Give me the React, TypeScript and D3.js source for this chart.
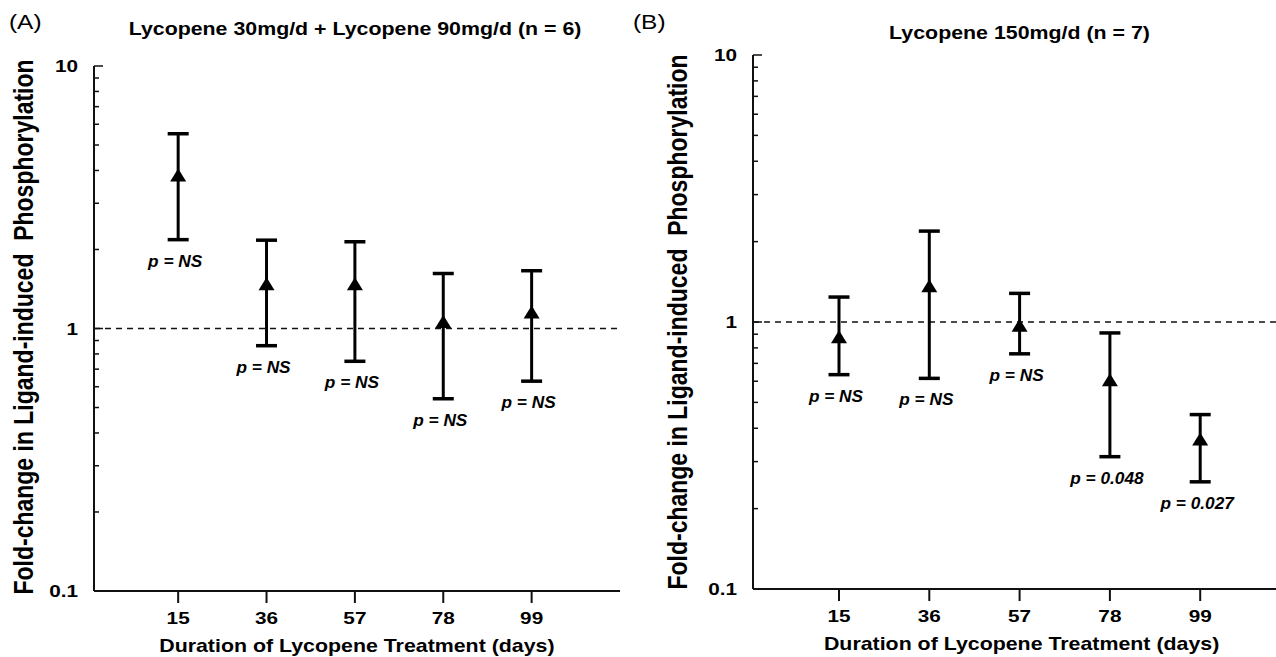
import React from 'react';
import * as d3 from 'd3';

// durations (days) shared by both panels
const days = [15, 36, 57, 78, 99];

// panel A: Lycopene 30mg/d + 90mg/d
const meanA = [3.79, 1.46, 1.46, 1.05, 1.14];
const upperA = [5.52, 2.17, 2.14, 1.62, 1.66];
const lowerA = [2.18, 0.86, 0.75, 0.54, 0.63];
const pA = ['NS', 'NS', 'NS', 'NS', 'NS'];

// panel B: Lycopene 150mg/d
const meanB = [0.87, 1.35, 0.96, 0.6, 0.36];
const upperB = [1.24, 2.19, 1.28, 0.91, 0.45];
const lowerB = [0.635, 0.615, 0.76, 0.313, 0.252];
const pB = ['NS', 'NS', 'NS', '0.048', '0.027'];

const yTickValues = [0.1, 1, 10];
const yTickLabels = ['0.1', '1', '10'];

const FONT = '"Liberation Sans", Arial, sans-serif';
const SX = 1.22; // the figure is a bit wider than tall

function T(props: any) {
  const { x, y, size, anchor = 'middle', weight = 'bold', italic = false, rot = false, sx = SX, children } = props;
  return (
    <text
      transform={`translate(${x},${y}) scale(${sx},1)${rot ? ' rotate(-90)' : ''}`}
      fontFamily={FONT}
      fontSize={size}
      fontWeight={weight}
      fontStyle={italic ? 'italic' : 'normal'}
      textAnchor={anchor}
      fill="#000"
      style={{ whiteSpace: 'pre' }}
    >
      {children}
    </text>
  );
}

function Panel(props: any) {
  const { left, right, top, bottom, tag, tagX, title, titleX, titleY, yTitleX, yTitleY, mean, upper, lower, pvals } = props;
  const x = d3.scaleLinear().domain([-5, 120]).range([left, right]);
  const y = d3.scaleLog().domain([0.1, 10]).range([bottom, top]);
  const cap = 10.5;

  return (
    <g>
      <T x={tagX} y={29} size={20} weight="normal" anchor="start">{tag}</T>
      <T x={titleX} y={titleY} size={17.5}>{title}</T>

      {/* y axis with log minor ticks */}
      <line x1={left} x2={left} y1={y(10)} y2={y(0.1)} stroke="#111" strokeWidth={2} />
      {y.ticks().map((t, i) => {
        const major = Math.abs(Math.log10(t) - Math.round(Math.log10(t))) < 1e-9;
        return <line key={i} x1={left} x2={left + (major ? 9 : 5)} y1={y(t)} y2={y(t)} stroke="#111" strokeWidth={1.5} />;
      })}
      {yTickValues.map((v, i) => (
        <T key={i} x={left - 16} y={y(v) + 6} size={17} anchor="end">{yTickLabels[i]}</T>
      ))}

      {/* x axis */}
      <line x1={left} x2={right} y1={y(0.1)} y2={y(0.1)} stroke="#111" strokeWidth={2} />
      {days.map((d, i) => (
        <g key={i}>
          <line x1={x(d)} x2={x(d)} y1={y(0.1)} y2={y(0.1) + 12} stroke="#111" strokeWidth={2} />
          <T x={x(d)} y={y(0.1) + 33} size={17}>{String(d)}</T>
        </g>
      ))}
      <T x={(x(15) + x(99)) / 2 + 2} y={y(0.1) + 61} size={17.5}>Duration of Lycopene Treatment (days)</T>

      <T x={yTitleX} y={yTitleY} size={23} rot>Fold-change in Ligand-induced  Phosphorylation</T>

      {/* reference line at 1 */}
      <line x1={left} x2={right} y1={y(1)} y2={y(1)} stroke="#111" strokeWidth={1.6} strokeDasharray="6,5" />

      {/* error bars */}
      {days.map((d, i) => {
        const cx = x(d);
        const cy = y(mean[i]);
        return (
          <g key={i}>
            <line x1={cx} x2={cx} y1={y(upper[i])} y2={y(lower[i])} stroke="#000" strokeWidth={3} />
            <line x1={cx - cap} x2={cx + cap} y1={y(upper[i])} y2={y(upper[i])} stroke="#000" strokeWidth={3.5} />
            <line x1={cx - cap} x2={cx + cap} y1={y(lower[i])} y2={y(lower[i])} stroke="#000" strokeWidth={3.5} />
            <path d={`M${cx},${cy - 8}L${cx + 8},${cy + 5}L${cx - 8},${cy + 5}Z`} fill="#000" />
            <T x={cx - 3} y={y(lower[i]) + 27} size={16} italic sx={1.08}>{`p = ${pvals[i]}`}</T>
          </g>
        );
      })}
    </g>
  );
}

export default function App() {
  return (
    <svg width={1276} height={657} style={{ position: 'absolute', left: 0, top: 0, background: '#fff' }}>
      <rect width={1276} height={657} fill="#fff" />
      <Panel
        left={94} right={620} top={66} bottom={591}
        tag="(A)" tagX={9}
        title="Lycopene 30mg/d + Lycopene 90mg/d (n = 6)" titleX={355} titleY={34.5}
        yTitleX={33} yTitleY={327}
        mean={meanA} upper={upperA} lower={lowerA} pvals={pA}
      />
      <Panel
        left={753} right={1290.5} top={55} bottom={589}
        tag="(B)" tagX={633}
        title="Lycopene 150mg/d (n = 7)" titleX={1019.5} titleY={39}
        yTitleX={687} yTitleY={322}
        mean={meanB} upper={upperB} lower={lowerB} pvals={pB}
      />
    </svg>
  );
}
